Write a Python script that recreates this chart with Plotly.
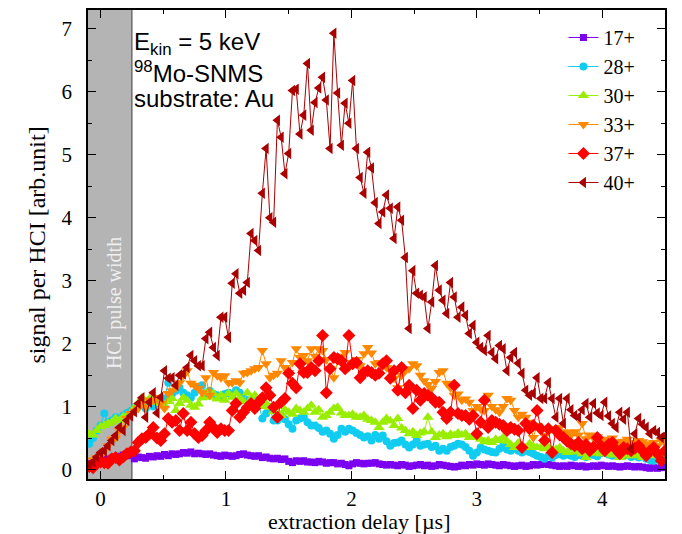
import plotly.graph_objects as go

# extraction delay grid [µs]
delay = [round(-0.09 + 0.03 * i, 2) for i in range(154)]

q17 = [0.10, 0.08, 0.11, 0.13, 0.17, 0.15, 0.18, 0.19, 0.21, 0.23,
       0.25, 0.22, 0.17, 0.20, 0.19, 0.18, 0.21, 0.20, 0.22, 0.21,
       0.24, 0.22, 0.25, 0.24, 0.25, 0.27, 0.26, 0.28, 0.25, 0.26,
       0.25, 0.24, 0.25, 0.23, 0.22, 0.21, 0.23, 0.22, 0.21, 0.22,
       0.24, 0.25, 0.23, 0.22, 0.21, 0.22, 0.19, 0.20, 0.18, 0.17,
       0.18, 0.16, 0.17, 0.13, 0.11, 0.14, 0.13, 0.14, 0.12, 0.12,
       0.11, 0.13, 0.12, 0.10, 0.11, 0.11, 0.09, 0.10, 0.08, 0.06,
       0.09, 0.11, 0.10, 0.09, 0.10, 0.10, 0.11, 0.09, 0.08, 0.07,
       0.08, 0.07, 0.06, 0.08, 0.07, 0.05, 0.06, 0.07, 0.08, 0.06,
       0.07, 0.05, 0.06, 0.08, 0.07, 0.06, 0.05, 0.04, 0.05, 0.07,
       0.06, 0.08, 0.07, 0.09, 0.08, 0.07, 0.09, 0.08, 0.07, 0.06,
       0.08, 0.07, 0.06, 0.05, 0.06, 0.07, 0.05, 0.06, 0.08, 0.07,
       0.08, 0.09, 0.08, 0.07, 0.06, 0.05, 0.06, 0.05, 0.07, 0.06,
       0.05, 0.06, 0.04, 0.05, 0.06, 0.05, 0.07, 0.06, 0.05, 0.06,
       0.05, 0.04, 0.05, 0.06, 0.05, 0.04, 0.05, 0.04, 0.03, 0.02,
       0.03, 0.02, 0.03, 0.04]

q28 = [0.41, 0.50, 0.62, 0.70, 0.89, 0.75, 0.78, 0.83, 0.80, 0.86,
       0.90, 0.93, 0.98, 1.00, 1.02, 0.97, 1.06, 1.00, 1.05, 1.10,
       1.13, 1.38, 1.20, 1.25, 1.30, 1.22, 1.18, 1.14, 1.22, 1.28,
       1.34, 1.21, 1.25, 1.20, 1.18, 1.15, 1.20, 1.22, 1.18, 1.26,
       1.22, 1.13, 1.10, 1.05, 1.13, 1.05, 0.81, 0.89, 0.97, 0.78,
       0.78, 0.86, 0.80, 0.72, 0.65, 0.78, 0.81, 0.83, 0.75, 0.70,
       0.70, 0.66, 0.60, 0.62, 0.57, 0.49, 0.55, 0.65, 0.60, 0.65,
       0.62, 0.58, 0.55, 0.51, 0.53, 0.46, 0.55, 0.49, 0.54, 0.45,
       0.38, 0.42, 0.43, 0.46, 0.40, 0.35, 0.40, 0.46, 0.38, 0.40,
       0.41, 0.36, 0.38, 0.30, 0.33, 0.30, 0.36, 0.38, 0.41, 0.40,
       0.36, 0.30, 0.22, 0.27, 0.35, 0.32, 0.30, 0.28, 0.27, 0.33,
       0.38, 0.32, 0.30, 0.33, 0.30, 0.27, 0.30, 0.28, 0.25, 0.22,
       0.20, 0.17, 0.22, 0.19, 0.23, 0.25, 0.22, 0.24, 0.22, 0.20,
       0.23, 0.22, 0.20, 0.25, 0.23, 0.21, 0.26, 0.27, 0.24, 0.22,
       0.24, 0.25, 0.22, 0.25, 0.20, 0.22, 0.19, 0.21, 0.17, 0.15,
       0.14, 0.18, 0.19, 0.16]

q30 = [0.57, 0.55, 0.62, 0.68, 0.70, 0.73, 0.75, 0.81, 0.78, 0.84,
       0.86, 0.89, 0.98, 1.05, 1.14, 1.08, 1.13, 1.10, 1.07, 1.05,
       1.02, 1.08, 1.13, 0.94, 1.05, 1.14, 1.10, 1.02, 0.99, 1.04,
       1.14, 1.22, 1.15, 1.21, 1.12, 1.18, 1.10, 1.21, 1.15, 1.21,
       1.14, 1.08, 1.22, 1.12, 1.18, 1.10, 1.00, 1.05, 0.99, 0.92,
       1.00, 0.86, 0.95, 0.91, 0.88, 0.97, 0.94, 0.91, 0.97, 1.02,
       0.91, 0.95, 0.83, 0.86, 0.91, 0.97, 0.99, 0.90, 0.86, 0.86,
       0.88, 0.83, 0.83, 0.86, 0.80, 0.78, 0.75, 0.67, 0.75, 0.81,
       0.77, 0.70, 0.81, 0.66, 0.62, 0.57, 0.60, 0.54, 0.58, 0.60,
       0.83, 0.60, 0.51, 0.55, 0.57, 0.52, 0.56, 0.54, 0.58, 0.55,
       0.57, 0.51, 0.53, 0.51, 0.48, 0.44, 0.46, 0.43, 0.48, 0.46,
       0.51, 0.45, 0.40, 0.35, 0.42, 0.38, 0.35, 0.41, 0.37, 0.35,
       0.35, 0.33, 0.36, 0.30, 0.32, 0.35, 0.30, 0.27, 0.33, 0.28,
       0.30, 0.25, 0.19, 0.26, 0.30, 0.27, 0.25, 0.25, 0.28, 0.23,
       0.26, 0.19, 0.22, 0.22, 0.25, 0.22, 0.24, 0.19, 0.23, 0.26,
       0.22, 0.25, 0.17, 0.25]

q33 = [0.10, 0.15, 0.19, 0.22, 0.30, 0.38, 0.48, 0.50, 0.62, 0.67,
       0.81, 0.89, 0.93, 0.97, 1.05, 0.99, 1.10, 1.10, 1.15, 1.05,
       0.97, 1.21, 1.25, 1.30, 1.38, 1.49, 1.57, 1.37, 1.34, 1.29,
       1.22, 1.46, 1.18, 1.54, 1.49, 1.46, 1.49, 1.38, 1.38, 1.41,
       1.38, 1.53, 1.54, 1.57, 1.60, 1.62, 1.89, 1.68, 1.46, 1.50,
       1.53, 1.73, 1.62, 1.54, 1.70, 1.92, 1.78, 1.81, 1.73, 1.92,
       1.80, 1.92, 1.89, 1.75, 1.60, 1.46, 1.73, 1.80, 1.86, 1.62,
       1.70, 1.75, 1.65, 1.84, 1.94, 1.85, 1.68, 1.70, 1.66, 1.62,
       1.58, 1.45, 1.30, 1.50, 1.57, 1.60, 1.68, 1.65, 1.50, 1.41,
       1.35, 1.29, 1.40, 1.54, 1.57, 1.37, 1.30, 1.18, 1.20, 1.10,
       1.12, 1.07, 0.94, 1.00, 0.96, 0.94, 1.18, 1.00, 0.95, 0.91,
       1.00, 1.13, 1.10, 0.94, 0.83, 0.88, 0.83, 0.75, 0.51, 0.70,
       0.62, 0.54, 0.60, 0.65, 0.62, 0.67, 0.60, 0.59, 0.55, 0.60,
       0.55, 0.73, 0.49, 0.55, 0.50, 0.52, 0.46, 0.48, 0.45, 0.50,
       0.44, 0.41, 0.45, 0.48, 0.42, 0.43, 0.46, 0.44, 0.40, 0.41,
       0.43, 0.38, 0.46, 0.42]

q37 = [0.05, 0.03, 0.10, 0.12, 0.11, 0.10, 0.17, 0.19, 0.15, 0.20,
       0.25, 0.28, 0.30, 0.43, 0.49, 0.51, 0.57, 0.67, 0.50, 0.46,
       0.57, 0.81, 0.75, 0.78, 0.62, 0.89, 0.62, 0.75, 0.57, 0.51,
       0.54, 0.62, 0.75, 0.67, 0.59, 0.65, 0.62, 0.62, 0.94, 1.05,
       0.83, 0.91, 0.99, 1.05, 0.97, 1.07, 1.14, 1.30, 1.18, 0.99,
       0.83, 1.07, 1.13, 1.53, 1.37, 1.30, 1.68, 1.54, 1.54, 1.62,
       1.57, 1.73, 2.13, 1.22, 1.60, 1.78, 1.76, 1.73, 1.60, 2.13,
       1.68, 1.70, 1.46, 1.54, 1.57, 1.54, 1.50, 1.53, 1.68, 1.73,
       1.45, 1.57, 1.26, 1.62, 1.22, 1.34, 0.97, 1.26, 1.10, 1.21,
       1.18, 1.14, 1.07, 1.07, 0.91, 0.81, 0.91, 1.34, 0.89, 0.86,
       0.86, 0.80, 0.86, 0.57, 0.75, 1.10, 0.67, 0.78, 0.75, 0.72,
       0.70, 0.62, 0.67, 0.64, 0.62, 0.35, 0.73, 0.65, 0.70, 0.94,
       0.65, 0.46, 0.65, 0.27, 0.62, 0.55, 0.51, 0.45, 0.41, 0.38,
       0.43, 0.33, 0.40, 0.30, 0.36, 0.51, 0.38, 0.30, 0.40, 0.43,
       0.32, 0.25, 0.35, 0.33, 0.30, 0.34, 0.38, 0.30, 0.22, 0.30,
       0.35, 0.25, 0.14, 0.30]

q40 = [0.08, 0.12, 0.20, 0.27, 0.30, 0.38, 0.46, 0.54, 0.67, 0.62,
       0.78, 0.85, 0.92, 1.05, 1.14, 0.83, 1.07, 1.22, 0.90, 1.15,
       1.57, 1.45, 1.46, 1.34, 1.50, 1.52, 1.62, 1.81, 1.73, 1.65,
       1.65, 2.08, 2.18, 1.94, 1.81, 2.42, 2.42, 2.10, 2.96, 3.11,
       2.80, 2.85, 2.97, 3.75, 3.64, 3.48, 4.39, 5.10, 4.00, 3.93,
       5.55, 5.28, 4.70, 5.02, 6.02, 6.04, 5.33, 5.63, 6.45, 5.39,
       5.83, 6.06, 6.23, 5.87, 5.10, 6.93, 5.98, 5.15, 5.82, 5.50,
       6.18, 5.10, 4.64, 4.39, 5.04, 4.79, 4.24, 3.91, 4.09, 4.36,
       4.15, 3.67, 4.17, 3.96, 3.37, 2.24, 3.16, 2.80, 2.77, 2.74,
       2.24, 2.66, 3.24, 2.85, 2.69, 2.48, 2.97, 2.74, 2.42, 2.58,
       2.45, 2.16, 2.29, 2.02, 1.94, 1.89, 2.13, 1.86, 1.76, 1.97,
       1.92, 1.57, 1.78, 1.86, 1.69, 1.53, 1.26, 1.18, 1.21, 1.46,
       1.13, 1.13, 1.38, 1.13, 0.83, 1.13, 0.73, 1.13, 0.95, 0.86,
       0.83, 0.95, 1.05, 0.83, 1.05, 0.90, 0.86, 1.07, 0.85, 0.73,
       0.67, 0.91, 0.80, 0.91, 0.33, 0.57, 0.81, 0.72, 0.67, 0.57,
       0.62, 0.59, 0.51, 0.54]

series_names = ["17+", "28+", "30+", "33+", "37+", "40+"]
series_values = [q17, q28, q30, q33, q37, q40]
series_colors = ["#7B00F0", "#10CCF0", "#99EE00", "#FF8800", "#FF0000", "#AA0000"]
series_symbols = ["square", "circle", "triangle-up", "triangle-down", "diamond", "triangle-left"]
series_sizes = [7, 8, 10, 10, 10, 10]

pulse_end = 0.25

fig = go.Figure()
for name, vals, col, sym, sz in zip(series_names, series_values, series_colors,
                                     series_symbols, series_sizes):
    fig.add_trace(go.Scatter(
        x=delay, y=vals, name=name, mode="lines+markers",
        line=dict(color=col, width=1),
        marker=dict(symbol=sym, size=sz, color=col, line=dict(width=0)),
    ))

fig.add_shape(type="rect", xref="x", yref="paper", x0=-0.1, x1=pulse_end,
              y0=0, y1=1, fillcolor="#B4B4B4", line=dict(width=0), layer="below")
fig.add_shape(type="line", xref="x", yref="paper", x0=pulse_end, x1=pulse_end,
              y0=0, y1=1, line=dict(color="#555555", width=1.2), layer="below")

fig.add_annotation(x=0.11, y=2.65, xref="x", yref="y", text="HCI pulse width",
                   textangle=-90, showarrow=False,
                   font=dict(family="Liberation Serif", size=20, color="#EFEFEF"))

ann_font = dict(family="Liberation Sans, Arial", size=24, color="black")
fig.add_annotation(x=0.076, y=0.929, xref="paper", yref="paper", xanchor="left",
                   yanchor="middle", text="E<sub>kin</sub> = 5 keV",
                   showarrow=False, font=ann_font)
fig.add_annotation(x=0.076, y=0.868, xref="paper", yref="paper", xanchor="left",
                   yanchor="middle", text="<sup>98</sup>Mo-SNMS",
                   showarrow=False, font=ann_font)
fig.add_annotation(x=0.076, y=0.812, xref="paper", yref="paper", xanchor="left",
                   yanchor="middle", text="substrate: Au",
                   showarrow=False, font=ann_font)

serif = "Liberation Serif, Times New Roman, serif"
fig.add_annotation(x=0.471, y=-0.0906, xref="paper", yref="paper",
                   xanchor="center", yanchor="middle",
                   text="extraction delay [µs]", showarrow=False,
                   font=dict(family=serif, size=22, color="black"))
fig.add_annotation(x=-0.089, y=0.499, xref="paper", yref="paper",
                   xanchor="center", yanchor="middle", textangle=-90,
                   text="signal per HCI [arb.unit]", showarrow=False,
                   font=dict(family=serif, size=24, color="black"))

axis_common = dict(
    showline=True, linecolor="black", linewidth=1.5, mirror="ticks",
    ticks="inside", ticklen=8, tickwidth=1.2, tickcolor="black",
    showgrid=False, zeroline=False, automargin=False,
    tickfont=dict(family=serif, size=21, color="black"),
)

fig.update_xaxes(range=[-0.1, 4.5], dtick=1, tick0=0,
                 minor=dict(ticks="inside", dtick=0.5, tick0=0, ticklen=4,
                            tickcolor="black", tickwidth=1.2),
                 **axis_common)
fig.update_yaxes(range=[-0.15, 7.3], dtick=1, tick0=0,
                 minor=dict(ticks="inside", dtick=0.5, tick0=0, ticklen=4,
                            tickcolor="black", tickwidth=1.2),
                 ticklabelstandoff=10,
                 **axis_common)

fig.update_layout(
    width=674, height=526,
    margin=dict(l=80, r=17, t=2, b=55),
    paper_bgcolor="white", plot_bgcolor="white",
    showlegend=True,
    legend=dict(x=0.824, y=0.983, xanchor="left", yanchor="top",
                bgcolor="rgba(0,0,0,0)",
                font=dict(family=serif, size=20, color="black"),
                tracegroupgap=0, itemwidth=30),
)

fig.write_html("out.html")
